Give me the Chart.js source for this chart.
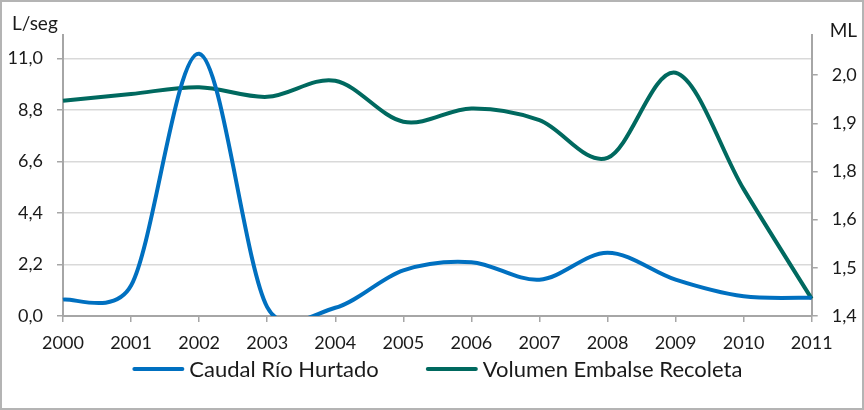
<!DOCTYPE html>
<html>
<head>
<meta charset="utf-8">
<script src="https://cdn.jsdelivr.net/npm/chart.js@4"></script>
<style>
  html, body { margin: 0; padding: 0; background: #ffffff; }
  #wrap { width: 864px; height: 410px; }
</style>
</head>
<body>
<div id="wrap"><canvas id="c" width="864" height="410"></canvas></div>
<script>
const years = ['2000','2001','2002','2003','2004','2005','2006','2007','2008','2009','2010','2011'];
const caudal = [0.70, 1.30, 11.20, 0.38, 0.35, 1.95, 2.30, 1.55, 2.70, 1.55, 0.84, 0.78];
const volumen = [1.936, 1.953, 1.970, 1.946, 1.986, 1.884, 1.917, 1.888, 1.794, 2.006, 1.716, 1.443];
const leftTicks = [0, 2.2, 4.4, 6.6, 8.8, 11.0];
const rightTicks = [1.4, 1.52, 1.64, 1.76, 1.88, 2.0];
const leftTitle = 'L/seg';
const rightTitle = 'ML';
const seriesNames = ['Caudal Río Hurtado', 'Volumen Embalse Recoleta'];

const FONT = 'Lato, "Noto Sans", sans-serif';
const TXT = '#1a1a1a';
const AXIS = '#a6a6a6';
const GRID = '#d9d9d9';
const fmt = v => Number(v).toFixed(1).replace('.', ',');

// Spreadsheet-style smoothing: Catmull-Rom tangents (1/6 of neighbour chord),
// each control arm limited to half of its adjacent segment.
const smoothPlugin = {
  id: 'smooth',
  beforeDatasetsDraw(chart) {
    chart.getSortedVisibleDatasetMetas().forEach(meta => {
      const pts = meta.data;
      const n = pts.length;
      const dist = (a, b) => Math.hypot(b.x - a.x, b.y - a.y);
      for (let i = 0; i < n; i++) {
        const p = pts[i];
        const prev = pts[Math.max(0, i - 1)];
        const next = pts[Math.min(n - 1, i + 1)];
        const tx = (next.x - prev.x) / 6;
        const ty = (next.y - prev.y) / 6;
        const tl = Math.hypot(tx, ty) || 1;
        const d0 = i > 0 ? dist(prev, p) : 0;
        const d1 = i < n - 1 ? dist(p, next) : 0;
        const s0 = Math.min(1, 0.5 * d0 / tl);
        const s1 = Math.min(1, 0.5 * d1 / tl);
        p.cp1x = p.x - tx * s0;
        p.cp1y = p.y - ty * s0;
        p.cp2x = p.x + tx * s1;
        p.cp2y = p.y + ty * s1;
      }
      if (meta.dataset) {
        meta.dataset._pointsUpdated = true;
        meta.dataset._path = undefined;
      }
    });
  }
};

const framePlugin = {
  id: 'frame',
  beforeDraw(chart) {
    const ctx = chart.ctx;
    ctx.save();
    ctx.fillStyle = '#ffffff';
    ctx.fillRect(0, 0, chart.width, chart.height);
    ctx.restore();
  },
  afterDraw(chart) {
    const ctx = chart.ctx;
    const ca = chart.chartArea;
    ctx.save();
    ctx.strokeStyle = '#b4b4b4';
    ctx.lineWidth = 2;
    ctx.strokeRect(1, 1, chart.width - 2, chart.height - 2);
    ctx.fillStyle = TXT;
    ctx.font = '19px ' + FONT;
    ctx.textBaseline = 'alphabetic';
    ctx.textAlign = 'left';
    ctx.fillText(leftTitle, 12, ca.top - 5);
    ctx.fillText(rightTitle, ca.right + 18, ca.top + 2);
    ctx.font = '22px ' + FONT;
    const lineLen = 48, gap = 9, itemGap = 47;
    const ds = chart.data.datasets;
    const widths = ds.map(d => lineLen + gap + ctx.measureText(d.label).width);
    const total = widths.reduce((a, b) => a + b, 0) + itemGap * (ds.length - 1);
    let x = (ca.left + ca.right) / 2 - total / 2;
    const y = 369;
    ds.forEach((d, i) => {
      ctx.strokeStyle = d.borderColor;
      ctx.lineWidth = 4;
      ctx.lineCap = 'round';
      ctx.beginPath();
      ctx.moveTo(x + 2, y);
      ctx.lineTo(x + lineLen + 2, y);
      ctx.stroke();
      ctx.fillStyle = TXT;
      ctx.textBaseline = 'middle';
      ctx.fillText(d.label, x + lineLen + gap, y + 1);
      x += widths[i] + itemGap;
    });
    ctx.restore();
  }
};

new Chart(document.getElementById('c'), {
  type: 'line',
  data: {
    labels: years,
    datasets: [
      {
        label: seriesNames[0],
        data: caudal,
        yAxisID: 'y',
        borderColor: '#0070c0',
        backgroundColor: '#0070c0',
        borderWidth: 4,
        pointRadius: 0,
        tension: 0.4,
        fill: false
      },
      {
        label: seriesNames[1],
        data: volumen,
        yAxisID: 'y1',
        borderColor: '#00695f',
        backgroundColor: '#00695f',
        borderWidth: 4,
        pointRadius: 0,
        tension: 0.4,
        fill: false
      }
    ]
  },
  options: {
    responsive: false,
    animation: false,
    devicePixelRatio: 1,
    layout: { padding: { top: 35, left: 0, right: 0, bottom: 0 } },
    plugins: {
      legend: { display: false },
      tooltip: { enabled: false },
      title: { display: false }
    },
    scales: {
      x: {
        type: 'category',
        offset: false,
        grid: { display: true, drawOnChartArea: false, drawTicks: true, tickLength: 6, tickColor: AXIS, lineWidth: 1.5 },
        border: { display: true, color: AXIS, width: 2 },
        ticks: { color: TXT, font: { family: FONT, size: 18 }, padding: 10, maxRotation: 0, autoSkip: false },
        afterFit(s) { s.height = 94; }
      },
      y: {
        type: 'linear',
        position: 'left',
        min: 0,
        max: 12,
        afterBuildTicks(s) { s.ticks = leftTicks.map(v => ({ value: v })); },
        grid: { display: true, drawOnChartArea: true, color: GRID, lineWidth: 1.5, drawTicks: true, tickLength: 6, tickColor: AXIS },
        border: { display: true, color: AXIS, width: 2 },
        ticks: { color: TXT, font: { family: FONT, size: 18 }, padding: 14, callback: v => fmt(v) },
        afterFit(s) { s.width = 63; }
      },
      y1: {
        type: 'linear',
        position: 'right',
        min: 1.4,
        max: 2.1,
        afterBuildTicks(s) { s.ticks = rightTicks.map(v => ({ value: v })); },
        grid: { display: true, drawOnChartArea: false, drawTicks: true, tickLength: 6, tickColor: AXIS, lineWidth: 1.5 },
        border: { display: true, color: AXIS, width: 2 },
        ticks: { color: TXT, font: { family: FONT, size: 18 }, padding: 14, callback: v => fmt(v) },
        afterFit(s) { s.width = 52.3; }
      }
    }
  },
  plugins: [smoothPlugin, framePlugin]
});
</script>
</body>
</html>
